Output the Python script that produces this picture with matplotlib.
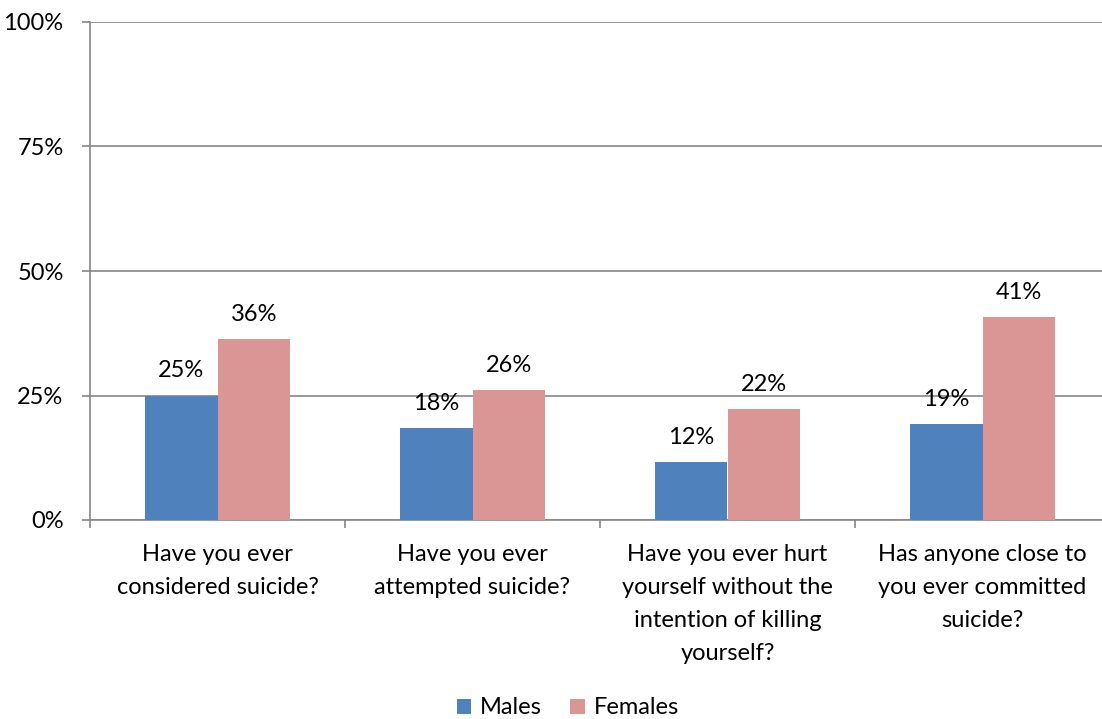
import numpy as np
import matplotlib
matplotlib.use("Agg")
import matplotlib.pyplot as plt
from matplotlib.ticker import FixedLocator, NullFormatter

# ── Data ────────────────────────────────────────────────
categories = [
    "Have you ever\nconsidered suicide?",
    "Have you ever\nattempted suicide?",
    "Have you ever hurt\nyourself without the\nintention of killing\nyourself?",
    "Has anyone close to\nyou ever committed\nsuicide?",
]
males = [25.0, 18.5, 11.6, 19.3]
females = [36.3, 26.1, 22.3, 40.8]
male_labels = ["25%", "18%", "12%", "19%"]
female_labels = ["36%", "26%", "22%", "41%"]
y_ticks = [0, 25, 50, 75, 100]

plt.rcParams["font.family"] = ["Lato", "DejaVu Sans"]
FS = 17

fig = plt.figure(figsize=(11.02, 7.19), dpi=100)
ax = fig.add_axes([90 / 1102, 1 - 520 / 719, 1020 / 1102, 498 / 719])

x = np.arange(len(categories))
w = 1 / 3.5
grid_c = "#868686"

ax.bar(x - w / 2, males, w, color="#4F81BD", label="Males", zorder=3)
ax.bar(x + w / 2, females, w, color="#D99694", label="Females", zorder=3)

for i in range(len(categories)):
    ax.annotate(male_labels[i], (x[i] - w / 2, males[i]), xytext=(0, 13), textcoords="offset points",
                ha="center", va="baseline", fontsize=FS)
    ax.annotate(female_labels[i], (x[i] + w / 2, females[i]), xytext=(0, 13), textcoords="offset points",
                ha="center", va="baseline", fontsize=FS)

ax.set_xlim(-0.5, len(categories) - 0.5)
ax.set_ylim(0, 100)
ax.set_yticks(y_ticks)
ax.set_yticklabels([f"{t}%" for t in y_ticks], fontsize=FS)
ax.yaxis.grid(True, color=grid_c, linewidth=1.2, zorder=0)

ax.xaxis.set_major_locator(FixedLocator(np.arange(-0.5, len(categories), 1)))
ax.xaxis.set_major_formatter(NullFormatter())
ax.xaxis.set_minor_locator(FixedLocator(x))
ax.set_xticklabels(categories, minor=True, fontsize=FS, linespacing=1.72)
ax.tick_params(axis="x", which="minor", length=0, pad=17)
ax.tick_params(axis="x", which="major", length=6, color=grid_c, width=1.2, direction="out")
ax.tick_params(axis="y", length=6, color=grid_c, width=1.2, pad=13)

for s in ["top", "right"]:
    ax.spines[s].set_visible(False)
for s in ["left", "bottom"]:
    ax.spines[s].set_color(grid_c)
    ax.spines[s].set_linewidth(1.2)

fig.legend(loc="center", bbox_to_anchor=(568 / 1102, 1 - 708 / 719), ncol=2, frameon=False,
           fontsize=FS, handlelength=0.6, handleheight=0.6, handletextpad=0.4, columnspacing=1.2)

plt.savefig("out.png", dpi=100)
plt.close()
